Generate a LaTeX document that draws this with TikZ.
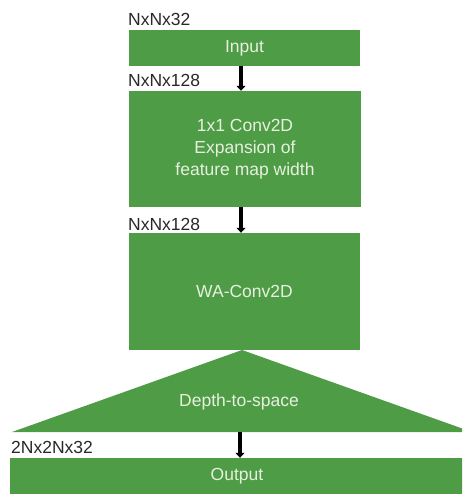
\documentclass[tikz,border=0pt]{standalone}
\usepackage{fontspec}
\setmainfont{Liberation Sans}
\usetikzlibrary{arrows.meta}
\definecolor{blockgreen}{RGB}{78,156,69}
\definecolor{blocktext}{RGB}{232,240,224}
\definecolor{dimtext}{RGB}{40,40,40}
\tikzset{
  block/.style={fill=blockgreen, draw=none, text=blocktext, align=center,
    font=\fontsize{17.5}{22}\selectfont, inner sep=0pt},
  dimlabel/.style={text=dimtext, anchor=base west, inner sep=0pt,
    font=\fontsize{17.5}{21}\selectfont},
  flow/.style={line width=3.6pt, black, -{Triangle[width=9pt,length=5pt]}}
}
\begin{document}
\begin{tikzpicture}[x=1pt, y=-1pt]
  \useasboundingbox (0,0) rectangle (462,494);
  \clip (0,0) rectangle (462,494);

  % main blocks
  \node[block, minimum width=231pt, minimum height=36pt] (inp) at (244.5,48) {Input};
  \node[block, minimum width=232pt, minimum height=116pt] (expand) at (245,149)
    {1x1 Conv2D\\Expansion of\\feature map width};
  \node[block, minimum width=231pt, minimum height=117pt] (wa) at (244.5,291.5) {WA-Conv2D};

  % depth-to-space wedge
  \coordinate (apex) at (242,350);
  \fill[blockgreen] (apex) -- (472,432) -- (12,432) -- cycle;
  \node[block, fill=none] (d2s) at (239,401.5) {Depth-to-space};
  \coordinate (d2sbase) at (240,432);

  \node[block, minimum width=470pt, minimum height=36pt] (out) at (245,476) {};
  \node[block, fill=none] at (237,476) {Output};

  % tensor shape labels
  \node[dimlabel] (s1) at (128,26) {NxNx32};
  \node[dimlabel] (s2) at (128,87) {NxNx128};
  \node[dimlabel] (s3) at (128,230) {NxNx128};
  \node[dimlabel] (s4) at (11,453) {2Nx2Nx32};

  % connectors
  \draw[flow] (inp.south -| 241,0) -- (expand.north -| 241,0);
  \draw[flow] (expand.south -| 241,0) -- (wa.north -| 241,0);
  \draw[flow] (d2sbase) -- (out.north -| d2sbase);
\end{tikzpicture}
\end{document}
